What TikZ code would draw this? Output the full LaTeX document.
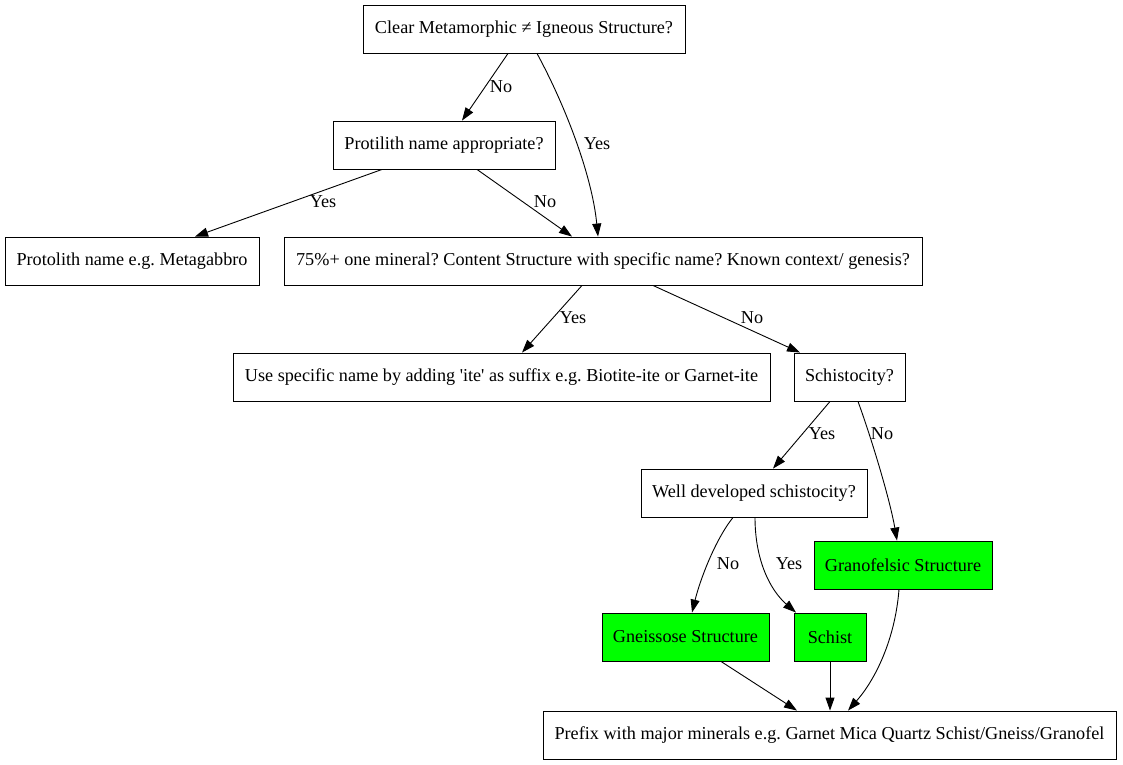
\documentclass[tikz,border=0pt]{standalone}
\usepackage{fontspec}
\setmainfont{Liberation Serif}
\usetikzlibrary{arrows.meta,calc}
\definecolor{boxgreen}{HTML}{00FF00}
\frenchspacing
\begin{document}
\begin{tikzpicture}[x=1pt,y=-1pt,
  box/.style={draw, line width=0.9pt, minimum height=48pt, inner sep=0pt, font=\fontsize{18.2}{22}\selectfont},
  gbox/.style={box, fill=boxgreen},
  lbl/.style={inner sep=0pt, font=\fontsize{18.2}{22}\selectfont},
  conn/.style={draw, line width=0.9pt, -{Triangle[length=13pt,width=9pt]}}]
\useasboundingbox (0,0) rectangle (1123,764);
\node[box, minimum width=322pt] (top) at (524,29) {Clear Metamorphic ≠ Igneous Structure?};
\node[box, minimum width=222pt] (papp) at (444,145) {Protilith name appropriate?};
\node[box, minimum width=254pt] (pe) at (132,261) {Protolith name e.g. Metagabbro};
\node[box, minimum width=638pt] (sp) at (603,261) {75\%+ one mineral? Content Structure with specific name? Known context/ genesis?};
\node[box, minimum width=537pt] (use) at (501.5,377) {Use specific name by adding \textquotesingle ite\textquotesingle\ as suffix e.g. Biotite-ite or Garnet-ite};
\node[box, minimum width=111pt] (sch) at (849.5,377) {Schistocity?};
\node[box, minimum width=226pt] (well) at (754,493) {Well developed schistocity?};
\node[gbox, minimum width=178pt] (gran) at (903,565) {Granofelsic Structure};
\node[gbox, minimum width=167pt] (gne) at (685.5,637) {Gneissose Structure};
\node[gbox, minimum width=72pt] (schist) at (830,637) {Schist};
\node[box, minimum width=573pt] (pre) at (829.5,735) {Prefix with major minerals e.g. Garnet Mica Quartz Schist/Gneiss/Granofel};

\draw[conn] ([xshift=-16pt]top.south) -- ([xshift=18pt]papp.north);
\draw[conn] ([xshift=13pt]top.south) .. controls (565,105) and (592,175) .. ([xshift=-5pt]sp.north);
\draw[conn] ([xshift=-62pt]papp.south) -- ([xshift=63pt]pe.north);
\draw[conn] ([xshift=33pt]papp.south) -- ([xshift=-31pt]sp.north);
\draw[conn] ([xshift=-21pt]sp.south) -- ([xshift=20.5pt]use.north);
\draw[conn] ([xshift=50pt]sp.south) -- ([xshift=-49.5pt]sch.north);
\draw[conn] ([xshift=-19.5pt]sch.south) -- ([xshift=19pt]well.north);
\draw[conn] ([xshift=8.5pt]sch.south) .. controls (872,440) and (890,500) .. ([xshift=-6pt]gran.north);
\draw[conn] ([xshift=-21pt]well.south) .. controls (715,540) and (700,580) .. ([xshift=6.5pt]gne.north);
\draw[conn] ([xshift=1pt]well.south) .. controls (755,560) and (770,590) .. ([xshift=-34pt]schist.north);
\draw[conn] ([xshift=35.5pt]gne.south) -- ([xshift=-32.5pt]pre.north);
\draw[conn] (schist.south) -- ([xshift=0.5pt]pre.north);
\draw[conn] ([xshift=-4pt]gran.south) .. controls (895,640) and (875,680) .. ([xshift=18.5pt]pre.north);

\node[lbl] (l1) at (501,87) {No};
\node[lbl] (l2) at (597,144) {Yes};
\node[lbl] (l3) at (323,202) {Yes};
\node[lbl] (l4) at (545,202) {No};
\node[lbl] (l5) at (573,318) {Yes};
\node[lbl] (l6) at (752,318) {No};
\node[lbl] (l7) at (822,434) {Yes};
\node[lbl] (l8) at (882,434) {No};
\node[lbl] (l9) at (728,564) {No};
\node[lbl] (l10) at (789,564) {Yes};
\end{tikzpicture}
\end{document}
